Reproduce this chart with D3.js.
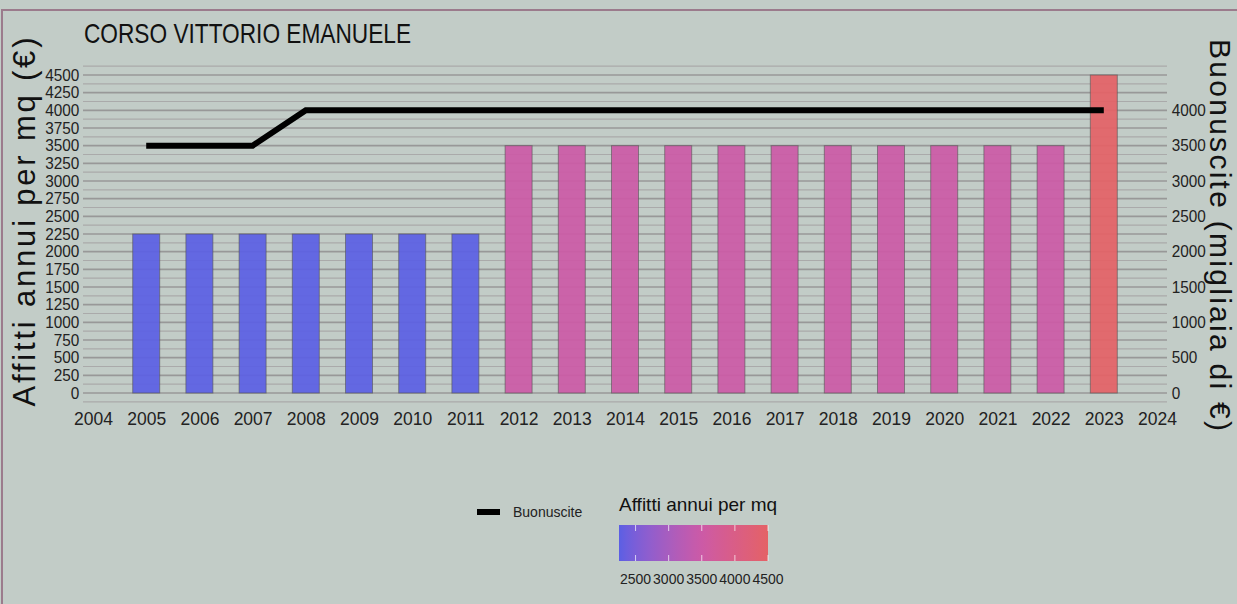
<!DOCTYPE html>
<html><head><meta charset="utf-8">
<script src="https://cdn.jsdelivr.net/npm/d3@7"></script>
<style>
html,body{margin:0;padding:0;background:#c2ccc7;}
svg{display:block;}
</style></head>
<body>
<script>
const years = [2005,2006,2007,2008,2009,2010,2011,2012,2013,2014,2015,2016,2017,2018,2019,2020,2021,2022,2023];
const affitti = [2250,2250,2250,2250,2250,2250,2250,3500,3500,3500,3500,3500,3500,3500,3500,3500,3500,3500,4500];
const buonuscite = [3500,3500,3500,4000,4000,4000,4000,4000,4000,4000,4000,4000,4000,4000,4000,4000,4000,4000,4000];
const leftTicks = [0,250,500,750,1000,1250,1500,1750,2000,2250,2500,2750,3000,3250,3500,3750,4000,4250,4500];
const rightTicks = [0,500,1000,1500,2000,2500,3000,3500,4000];
const xTicks = [2004,2005,2006,2007,2008,2009,2010,2011,2012,2013,2014,2015,2016,2017,2018,2019,2020,2021,2022,2023,2024];
const legendTicks = [2500,3000,3500,4000,4500];
const title = "CORSO VITTORIO EMANUELE";

const W=1237,H=604;
const font = "'Liberation Sans',Arial,sans-serif";
const svg = d3.select("body").append("svg").attr("width",W).attr("height",H);
svg.append("rect").attr("width",W).attr("height",H).attr("fill","#c2ccc7");
svg.append("rect").attr("x",2).attr("y",10).attr("width",W+10).attr("height",H+10)
  .attr("fill","none").attr("stroke","#9b7b8c").attr("stroke-width",2);

const x = d3.scaleLinear().domain([2004,2024]).range([93,1157]);
const y = d3.scaleLinear().domain([0,4500]).range([393,75]);
const yR = d3.scaleLinear().domain([0,4000]).range([y(0),y(4000)]);
const color = d3.scaleLinear().domain([2250,3500,4500]).range(["#5b5fe4","#cc5aa6","#e46266"]).interpolate(d3.interpolateLab);

const px0=83, px1=1167;
const gridVals = d3.range(-125,4626,125);
svg.append("g").selectAll("line").data(gridVals).join("line")
  .attr("x1",px0).attr("x2",px1).attr("y1",d=>y(d)).attr("y2",d=>y(d))
  .attr("stroke",d=>d%250===0?"#989898":"#aaaaaa")
  .attr("stroke-width",d=>d%250===0?1.6:1.2);

const bw = 27;
svg.append("g").selectAll("rect").data(years).join("rect")
  .attr("x",(d)=>x(d)-bw/2).attr("width",bw)
  .attr("y",(d,i)=>y(affitti[i])).attr("height",(d,i)=>y(0)-y(affitti[i]))
  .attr("fill",(d,i)=>color(affitti[i])).attr("fill-opacity",0.92)
  .attr("stroke","#555").attr("stroke-opacity",0.6).attr("stroke-width",1);

svg.append("path").datum(years)
  .attr("d",d3.line().x(d=>x(d)).y((d,i)=>yR(buonuscite[i])))
  .attr("fill","none").attr("stroke","#000").attr("stroke-width",6);

const gl = svg.append("g").attr("transform",`translate(${px0},0)`)
  .call(d3.axisLeft(y).tickValues(leftTicks).tickFormat(d3.format("d")).tickSize(0).tickPadding(4));
gl.select(".domain").remove();
gl.selectAll("text").attr("font-family",font).attr("font-size",16.5).attr("fill","#222")
  .attr("transform","scale(0.93,1)");

const gr = svg.append("g").attr("transform",`translate(${px1},0)`)
  .call(d3.axisRight(yR).tickValues(rightTicks).tickFormat(d3.format("d")).tickSize(0).tickPadding(5));
gr.select(".domain").remove();
gr.selectAll("text").attr("font-family",font).attr("font-size",16.5).attr("fill","#222")
  .attr("transform","scale(0.93,1)");

const gx = svg.append("g").attr("transform",`translate(0,406)`)
  .call(d3.axisBottom(x).tickValues(xTicks).tickFormat(d3.format("d")).tickSize(0).tickPadding(7));
gx.select(".domain").remove();
gx.selectAll("text").attr("font-family",font).attr("font-size",17.5).attr("fill","#222");

svg.append("text").attr("x",84).attr("y",43).text(title)
  .attr("font-family",font).attr("font-size",28).attr("fill","#111")
  .attr("textLength",327).attr("lengthAdjust","spacingAndGlyphs");
svg.append("text").attr("transform","translate(35,222) rotate(-90)").attr("text-anchor","middle")
  .text("Affitti annui per mq (€)").attr("font-family",font).attr("font-size",31).attr("fill","#111")
  .attr("textLength",369).attr("lengthAdjust","spacing");
svg.append("text").attr("transform","translate(1210,235) rotate(90)").attr("text-anchor","middle")
  .text("Buonuscite (migliaia di €)").attr("font-family",font).attr("font-size",30).attr("fill","#111")
  .attr("textLength",392).attr("lengthAdjust","spacing");

svg.append("line").attr("x1",477).attr("x2",500).attr("y1",512).attr("y2",512)
  .attr("stroke","#000").attr("stroke-width",6);
svg.append("text").attr("x",513).attr("y",517).text("Buonuscite")
  .attr("font-family",font).attr("font-size",14).attr("fill","#222");

const lx = d3.scaleLinear().domain([2250,4500]).range([619,768]);
const defs = svg.append("defs");
const grad = defs.append("linearGradient").attr("id","lg").attr("x1","0%").attr("x2","100%");
d3.range(0,1.0001,0.05).forEach(t=>{
  grad.append("stop").attr("offset",(t*100)+"%").attr("stop-color",color(2250+t*2250));
});
svg.append("text").attr("x",619).attr("y",511).text("Affitti annui per mq")
  .attr("font-family",font).attr("font-size",19).attr("fill","#111");
svg.append("rect").attr("x",lx(2250)).attr("y",525).attr("width",lx(4500)-lx(2250)).attr("height",36)
  .attr("fill","url(#lg)");
const lt = svg.append("g");
lt.selectAll("line.t").data(legendTicks).join("line").attr("class","t")
  .attr("x1",d=>lx(d)).attr("x2",d=>lx(d)).attr("y1",525).attr("y2",531)
  .attr("stroke","#fff").attr("stroke-opacity",0.7).attr("stroke-width",1);
lt.selectAll("line.b").data(legendTicks).join("line").attr("class","b")
  .attr("x1",d=>lx(d)).attr("x2",d=>lx(d)).attr("y1",555).attr("y2",561)
  .attr("stroke","#fff").attr("stroke-opacity",0.7).attr("stroke-width",1);
lt.selectAll("text").data(legendTicks).join("text")
  .attr("x",d=>lx(d)).attr("y",584).attr("text-anchor","middle").text(d=>d)
  .attr("font-family",font).attr("font-size",14).attr("fill","#222");
</script>
</body></html>
